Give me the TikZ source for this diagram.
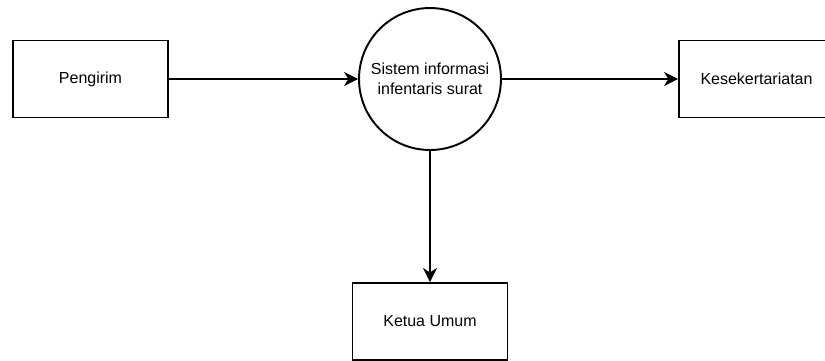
\documentclass[tikz,border=0pt]{standalone}
\usepackage{fontspec}
\setmainfont{Liberation Sans}
\usetikzlibrary{arrows.meta, positioning}

\begin{document}
\begin{tikzpicture}[
    x=0.02cm, y=-0.02cm,
    entitas/.style={draw, line width=1.1pt, minimum width=3.1cm, minimum height=1.54cm,
      inner sep=2pt, font=\fontsize{9.1}{11.3}\selectfont, align=center},
    proses/.style={draw, circle, line width=1.1pt, minimum size=2.84cm, inner sep=0pt,
      font=\fontsize{9.1}{11.3}\selectfont, align=center},
    alir/.style={line width=1.1pt, -{Stealth[length=8pt, width=8pt, inset=2.5pt]}},
  ]
    \useasboundingbox (0, 0) rectangle (825, 360);
    \node[entitas] (pengirim) at (90.5, 79) {Pengirim};
    \node[proses] (sistem) at (430, 79) {Sistem informasi\\infentaris surat};
    \node[entitas] (sekretariat) at (756.5, 79) {Kesekertariatan};
    \node[entitas] (ketua) at (430, 321.5) {Ketua Umum};
    \draw[alir] (pengirim) -- (sistem);
    \draw[alir] (sistem) -- (sekretariat);
    \draw[alir] (sistem) -- (ketua);
  \end{tikzpicture}
\end{document}
